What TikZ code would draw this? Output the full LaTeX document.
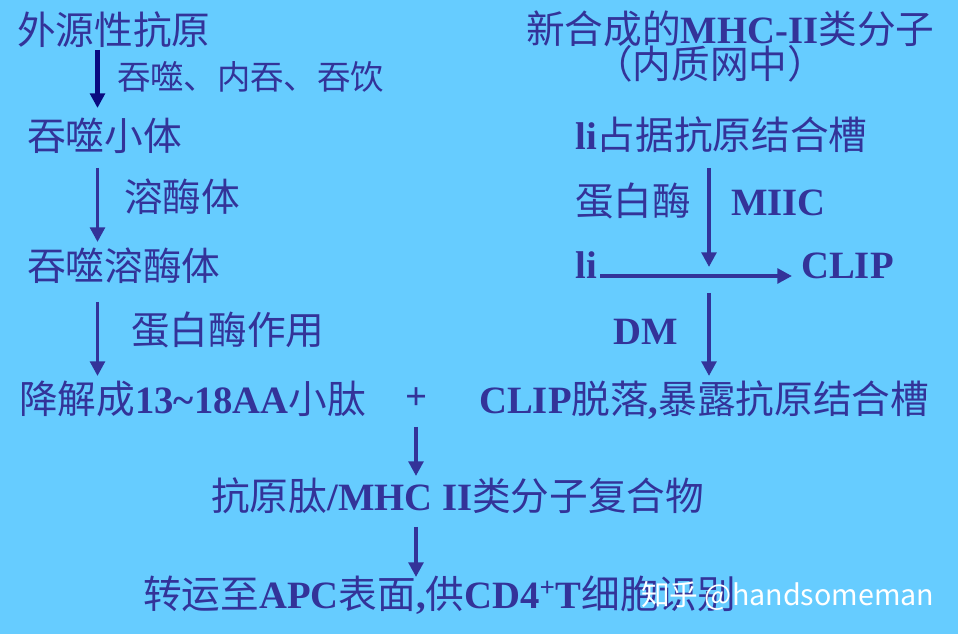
\documentclass[tikz,border=0pt]{standalone}
\usepackage{fontspec}
\setmainfont{Liberation Serif}
\newfontfamily\cjk{Noto Sans CJK SC}
\usetikzlibrary{arrows.meta}

\definecolor{bgblue}{RGB}{102,204,255}
\definecolor{ink}{RGB}{51,51,153}
\definecolor{deepink}{RGB}{10,10,128}
\newcommand{\lat}[1]{{\rmfamily\bfseries #1}}

\tikzset{
  txt/.style={anchor=base west,inner sep=0pt,text=ink,font=\cjk\fontsize{29}{30}\selectfont},
  smalltxt/.style={txt,font=\cjk\fontsize{25}{26}\selectfont},
  flow/.style={draw=ink,line width=2.7pt,-{Triangle[width=11pt,length=11pt]}},
}

\begin{document}
\begin{tikzpicture}[x=0.75pt,y=0.75pt,yscale=-1,xscale=1]
%background, fixes the size of the picture
\path [fill=bgblue] (0,0) rectangle (958,634);

% Text Node
\draw (17,45) node [txt] (ext) {外源性抗原};
% Text Node
\draw (117,89.5) node [smalltxt] (uptake) {吞噬、内吞、吞饮};
% Text Node
\draw (27,151) node [txt] (phago) {吞噬小体};
% Text Node
\draw (124,212) node [txt] (lyso) {溶酶体};
% Text Node
\draw (27,281) node [txt] (phagolyso) {吞噬溶酶体};
% Text Node
\draw (131,345) node [txt] (protease) {蛋白酶作用};
% Text Node
\draw (19,414) node [txt] (peptide) {降解成\lat{13\textasciitilde18AA}小肽};
% Text Node
\draw (417,399) node [anchor=center,inner sep=0pt,text=ink,font=\rmfamily\bfseries\fontsize{29}{30}\selectfont] (plus) {+};
% Text Node
\draw (479,414) node [txt] (clipoff) {\lat{CLIP}脱落\lat{,}暴露抗原结合槽};
% Text Node
\draw (211,511) node [txt] (complex) {抗原肽\lat{/MHC II}类分子复合物};
% Text Node
\draw (143,609) node [txt] (surface) {转运至\lat{APC}表面\lat{,}供\lat{CD4\textsuperscript{+}T}细胞识别};

% Text Node
\draw (526,44) node [txt] (mhc) {新合成的\lat{MHC-II}类分子};
% Text Node
\draw (594,79) node [txt] (er) {（内质网中）};
% Text Node
\draw (575,150) node [txt] (iibind) {\lat{li}占据抗原结合槽};
% Text Node
\draw (575,216) node [txt] (enzyme) {蛋白酶};
% Text Node
\draw (731,215.5) node [txt] (miic) {\lat{MIIC}};
% Text Node
\draw (575,279) node [txt] (ii) {\lat{li}};
% Text Node
\draw (801,279) node [txt] (clip) {\lat{CLIP}};
% Text Node
\draw (613,345) node [txt] (dm) {\lat{DM}};

% Text Node
\draw (641,606) node [txt,text=white,font=\cjk\fontsize{21.5}{23}\selectfont] (mark) {知乎 @handsomeman};

%arrow ends
\coordinate (a1s) at (97.5,50);   \coordinate (a1e) at (97.5,108);
\coordinate (a2s) at (97.5,168);  \coordinate (a2e) at (97.5,242);
\coordinate (a3s) at (97.5,302);  \coordinate (a3e) at (97.5,376);
\coordinate (a4s) at (709,168);   \coordinate (a4e) at (709,267);
\coordinate (a5s) at (600,276);   \coordinate (a5e) at (792,276);
\coordinate (a6s) at (709,293);   \coordinate (a6e) at (709,376);
\coordinate (a7s) at (416,427);   \coordinate (a7e) at (416,476);
\coordinate (a8s) at (416,527);   \coordinate (a8e) at (416,577);

%Straight Lines
\draw [flow,draw=deepink,line width=3.2pt] (a1s) -- (a1e);
%Straight Lines
\draw [flow] (a2s) -- (a2e);
%Straight Lines
\draw [flow] (a3s) -- (a3e);
%Straight Lines
\draw [flow] (a4s) -- (a4e);
%Straight Lines
\draw [flow] (a5s) -- (a5e);
%Straight Lines
\draw [flow] (a6s) -- (a6e);
%Straight Lines
\draw [flow] (a7s) -- (a7e);
%Straight Lines
\draw [flow] (a8s) -- (a8e);

\end{tikzpicture}
\end{document}
